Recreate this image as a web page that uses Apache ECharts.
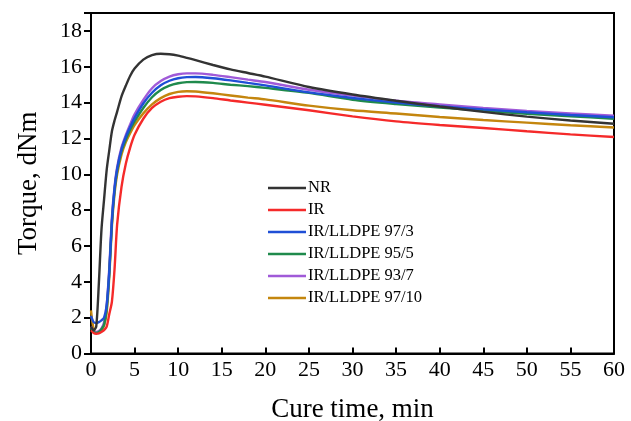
<!DOCTYPE html>
<html>
<head>
<meta charset="utf-8">
<script src="https://cdn.jsdelivr.net/npm/echarts@6/dist/echarts.min.js"></script>
<style>html,body{margin:0;padding:0;background:#fff;}#c{width:631px;height:421px;}</style>
</head>
<body>
<div id="c"></div>
<script>
var time = [0,0.3,0.6,0.9,1.2,1.5,1.8,2.1,2.4,2.7,3,3.5,4,4.5,5,6,7,8,9,10,11,12,14,16,18,20,25,30,35,40,45,50,55,60];
var seriesNames = ['NR','IR','IR/LLDPE 97/3','IR/LLDPE 95/5','IR/LLDPE 93/7','IR/LLDPE 97/10'];
var nr    = [1.5,1.3,1.5,3.9,6.9,8.6,10.25,11.35,12.4,13.0,13.5,14.35,14.95,15.5,15.9,16.4,16.65,16.73,16.7,16.62,16.5,16.37,16.1,15.85,15.65,15.45,14.87,14.45,14.1,13.78,13.48,13.22,13.0,12.82];
var ir    = [1.3,1.15,1.1,1.12,1.2,1.3,1.5,2.2,2.9,4.7,7.2,9.3,10.6,11.5,12.2,13.1,13.7,14.05,14.25,14.33,14.36,14.35,14.25,14.12,14.0,13.88,13.57,13.23,12.95,12.75,12.58,12.4,12.23,12.08];
var ir973 = [2.1,1.75,1.7,1.75,1.85,2.0,2.7,4.6,7.4,9.2,10.3,11.4,12.1,12.65,13.15,13.95,14.55,14.97,15.22,15.36,15.42,15.43,15.36,15.24,15.1,14.96,14.57,14.26,14.0,13.8,13.62,13.46,13.31,13.18];
var ir955 = [1.4,1.2,1.15,1.2,1.35,1.6,2.5,4.5,7.3,9.1,10.2,11.3,11.95,12.5,12.95,13.7,14.3,14.7,14.95,15.08,15.14,15.15,15.1,15.0,14.92,14.82,14.54,14.16,13.92,13.72,13.55,13.38,13.24,13.1];
var ir937 = [1.5,1.25,1.2,1.25,1.4,1.75,2.7,4.8,7.6,9.3,10.4,11.5,12.2,12.8,13.35,14.15,14.8,15.2,15.45,15.58,15.63,15.63,15.55,15.42,15.28,15.15,14.72,14.39,14.1,13.9,13.7,13.53,13.4,13.27];
var ir9710= [2.4,1.35,1.15,1.2,1.3,1.55,2.3,4.3,7.1,8.9,10.0,11.1,11.8,12.3,12.75,13.4,13.9,14.25,14.48,14.6,14.63,14.62,14.52,14.4,14.28,14.18,13.83,13.57,13.39,13.2,13.03,12.88,12.74,12.61];
var xTicks = [0,5,10,15,20,25,30,35,40,45,50,55,60];
var yTicks = [0,2,4,6,8,10,12,14,16,18];

var colors = ['#333333','#f52a2a','#1f4fd6','#1f8a4c','#a05ad8','#c4860e'];
var values = [nr, ir, ir973, ir955, ir937, ir9710];
var font = 'Liberation Serif, Times New Roman, serif';

var series = seriesNames.map(function(n, i){
  return {
    name: n, type: 'line', smooth: 0.25, symbol: 'none', showSymbol: false,
    data: time.map(function(t, j){ return [t, values[i][j]]; }),
    lineStyle: {color: colors[i], width: 2.4},
    itemStyle: {color: colors[i]},
    z: 10 - i
  };
});

var chart = echarts.init(document.getElementById('c'), null, {renderer: 'canvas'});
chart.setOption({
  animation: false,
  backgroundColor: '#fff',
  grid: {left: 91, right: 17, top: 13, bottom: 67.5, containLabel: false, outerBoundsMode: 'none',
         show: true, borderColor: '#000', borderWidth: 2, backgroundColor: 'transparent'},
  legend: {
    orient: 'vertical', left: 263, top: 174.5, icon: 'rect', itemWidth: 38, itemHeight: 2.5, itemGap: 5,
    textStyle: {fontFamily: font, fontSize: 16.5, color: '#000', lineHeight: 16, height: 16, padding: [0,0,0,-3]},
    data: seriesNames
  },
  xAxis: {
    type: 'value', min: 0, max: 60, interval: 5,
    name: 'Cure time, min', nameLocation: 'middle', nameGap: 43,
    nameTextStyle: {fontFamily: font, fontSize: 27, color: '#000'},
    axisLine: {show: true, lineStyle: {color: '#000', width: 2}},
    axisTick: {show: true, inside: true, length: 6, lineStyle: {color: '#000', width: 2}},
    axisLabel: {fontFamily: font, fontSize: 22, color: '#000', margin: 6,
      formatter: function(v){ return xTicks.indexOf(v) >= 0 ? String(v) : ''; }},
    splitLine: {show: false}
  },
  yAxis: {
    type: 'value', min: 0, max: 19, interval: 2,
    name: 'Torque, dNm', nameLocation: 'middle', nameGap: 49,
    nameTextStyle: {fontFamily: font, fontSize: 27, color: '#000'},
    axisLine: {show: true, lineStyle: {color: '#000', width: 2}},
    axisTick: {show: true, inside: false, length: 7, lineStyle: {color: '#000', width: 2}},
    axisLabel: {fontFamily: font, fontSize: 22, color: '#000', margin: 9,
      formatter: function(v){ return yTicks.indexOf(v) >= 0 ? String(v) : ''; }},
    splitLine: {show: false}
  },
  series: series
});
</script>
</body>
</html>
